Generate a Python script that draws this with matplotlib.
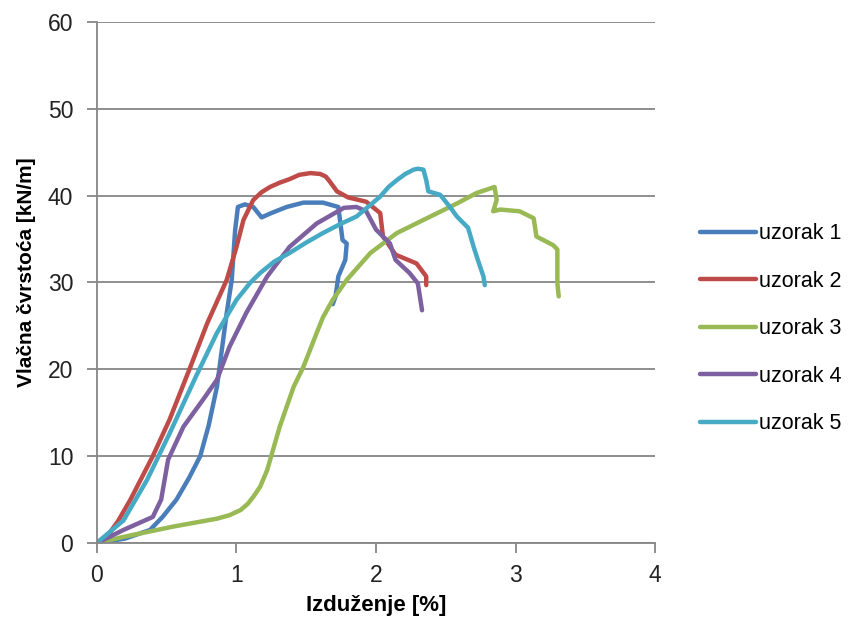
import numpy as np
import matplotlib.pyplot as plt

plt.rcParams['font.family'] = ['Liberation Sans', 'DejaVu Sans']

# izduzenje [%] / vlacna cvrstoca [kN/m]
x1 = [0, 0.2, 0.38, 0.47, 0.57, 0.66, 0.74, 0.8, 0.86, 0.93, 0.966, 0.99, 1.01, 1.06, 1.12, 1.18,
      1.25, 1.36, 1.48, 1.62, 1.73, 1.76, 1.79, 1.78, 1.73, 1.71, 1.69]
y1 = [0, 0.5, 1.5, 3, 5, 7.5, 10, 13.5, 18, 26.5, 30.3, 36, 38.7, 39, 38.7, 37.5,
      38, 38.7, 39.2, 39.2, 38.7, 34.9, 34.5, 32.6, 30.7, 28.4, 27.5]

x2 = [0, 0.07, 0.15, 0.24, 0.40, 0.52, 0.67, 0.79, 0.93, 1.0, 1.05, 1.12, 1.18, 1.24, 1.31, 1.38,
      1.45, 1.53, 1.6, 1.64, 1.67, 1.72, 1.8, 1.93, 2.03, 2.05, 2.14, 2.29, 2.36, 2.36]
y2 = [0, 0.7, 2.5, 5, 10, 14.2, 20.3, 25.3, 30.3, 34.1, 37.2, 39.5, 40.4, 41, 41.5, 41.9,
      42.4, 42.6, 42.5, 42.2, 41.6, 40.5, 39.8, 39.3, 38, 35.3, 33.2, 32.2, 30.7, 29.7]

x3 = [0, 0.19, 0.55, 0.86, 0.95, 1.03, 1.08, 1.12, 1.17, 1.22, 1.31, 1.41, 1.48, 1.575, 1.62, 1.69,
      1.79, 1.96, 2.15, 2.39, 2.58, 2.72, 2.85, 2.865, 2.84, 2.89, 3.03, 3.13, 3.15, 3.27,
      3.30, 3.30, 3.31]
y3 = [0, 0.7, 1.9, 2.8, 3.2, 3.8, 4.5, 5.3, 6.5, 8.4, 13.4, 18, 20.3, 24.2, 26, 28,
      30.3, 33.4, 35.7, 37.6, 39.1, 40.3, 41, 39.5, 38.2, 38.4, 38.2, 37.4, 35.3, 34.3,
      33.8, 29.9, 28.4]

x4 = [0, 0.19, 0.40, 0.46, 0.51, 0.62, 0.76, 0.86, 0.95, 1.07, 1.22, 1.38, 1.575, 1.77, 1.86,
      1.93, 2.0, 2.10, 2.14, 2.24, 2.30, 2.33]
y4 = [0, 1.5, 3, 5, 9.6, 13.4, 16.5, 18.8, 22.6, 26.5, 30.7, 34.1, 36.8, 38.6, 38.7,
      38.2, 36.1, 34.5, 32.6, 31.1, 29.9, 26.8]

x5 = [0, 0.02, 0.19, 0.36, 0.52, 0.71, 0.86, 1.0, 1.1, 1.17, 1.27, 1.38, 1.5, 1.62, 1.74, 1.86,
      1.95, 2.03, 2.09, 2.15, 2.21, 2.27, 2.3, 2.34, 2.36, 2.375, 2.46, 2.53, 2.58, 2.66,
      2.70, 2.73, 2.77, 2.78]
y5 = [0, 0.3, 2.6, 7.3, 12.6, 19.2, 24.2, 28, 30, 31.1, 32.4, 33.4, 34.6, 35.7, 36.7, 37.6,
      38.8, 39.9, 41, 41.8, 42.5, 43, 43.1, 43, 41.8, 40.5, 40.1, 38.7, 37.6, 36.3,
      34.1, 32.6, 30.7, 29.7]

labels = ['uzorak 1', 'uzorak 2', 'uzorak 3', 'uzorak 4', 'uzorak 5']
colors = ['#4A7EBB', '#BE4B48', '#98B954', '#7D60A0', '#46AAC5']

fig = plt.figure(figsize=(8.56, 6.31), dpi=100)
ax = fig.add_axes([0.1133, 0.1395, 0.6519, 0.8256])

for xs, ys, lab, c in zip([x1, x2, x3, x4, x5], [y1, y2, y3, y4, y5], labels, colors):
    ax.plot(xs, ys, color=c, lw=3.2, label=lab, solid_capstyle='round', solid_joinstyle='round')

ax.set_xlim(0, 4)
ax.set_ylim(0, 60)
ax.set_xticks(np.arange(0, 5, 1))
ax.set_yticks(np.arange(0, 70, 10))
ax.grid(axis='y', color='#868686', lw=1.3)
ax.set_axisbelow(True)
for s in ['top', 'right']:
    ax.spines[s].set_visible(False)
for s in ['left', 'bottom']:
    ax.spines[s].set_color('#868686')
    ax.spines[s].set_linewidth(1.3)
ax.tick_params(colors='#868686', labelcolor='#222222', labelsize=16.5, length=7, width=1.3)
ax.tick_params(axis='x', pad=8)
ax.tick_params(axis='y', pad=10)
ax.set_xlabel('Izduženje [%]', fontsize=16, fontweight='bold', labelpad=6)
ax.set_ylabel('Vlačna čvrstoća [kN/m]', fontsize=15, fontweight='bold')
ax.yaxis.set_label_coords(-0.11, 0.52)

fig.legend(loc='center left', bbox_to_anchor=(0.818, 0.479), frameon=False, fontsize=15.5,
           borderpad=0, borderaxespad=0,
           handlelength=2.6, handletextpad=0.15, labelspacing=1.23)

fig.savefig('out.png', dpi=100)
